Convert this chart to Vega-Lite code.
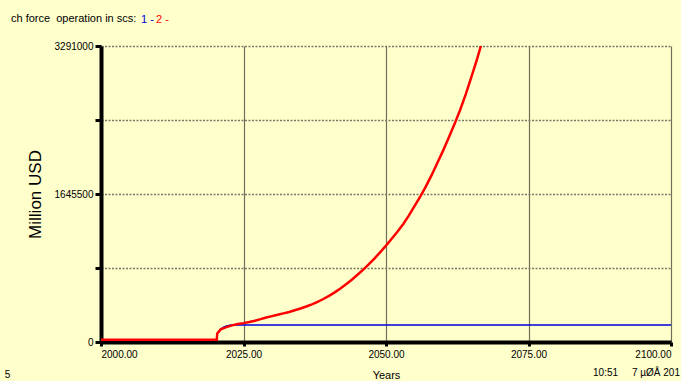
{
  "$schema": "https://vega.github.io/schema/vega-lite/v6.json",
  "width": 570,
  "height": 296,
  "autosize": {"type": "none"},
  "padding": {"left": 101, "top": 46, "right": 10, "bottom": 39},
  "background": "#ffffcc",
  "config": {"view": {"stroke": null}, "font": "Liberation Sans"},
  "title": {
    "text": "10:51\u00a0\u00a0\u00a0\u00a0\u00a07 µØÅ 201",
    "orient": "bottom",
    "anchor": "end",
    "frame": "group",
    "fontSize": 10,
    "fontWeight": "normal",
    "color": "#000000",
    "offset": -12,
    "dx": 9
  },
  "layer": [
    {
      "data": {
        "values": [
          {"year": 2000, "value": 25000, "series": "1"},
          {"year": 2020.3, "value": 25000, "series": "1"},
          {"year": 2020.4, "value": 95000, "series": "1"},
          {"year": 2021, "value": 145000, "series": "1"},
          {"year": 2021.5, "value": 165000, "series": "1"},
          {"year": 2022, "value": 178000, "series": "1"},
          {"year": 2022.8, "value": 189000, "series": "1"},
          {"year": 2100, "value": 189000, "series": "1"},
          {"year": 2000, "value": 25000, "series": "2"},
          {"year": 2020.3, "value": 25000, "series": "2"},
          {"year": 2020.4, "value": 95000, "series": "2"},
          {"year": 2021, "value": 140000, "series": "2"},
          {"year": 2022, "value": 165000, "series": "2"},
          {"year": 2023, "value": 185000, "series": "2"},
          {"year": 2024, "value": 200000, "series": "2"},
          {"year": 2025, "value": 210000, "series": "2"},
          {"year": 2026, "value": 222000, "series": "2"},
          {"year": 2027, "value": 237000, "series": "2"},
          {"year": 2028, "value": 254000, "series": "2"},
          {"year": 2029, "value": 273000, "series": "2"},
          {"year": 2030, "value": 288000, "series": "2"},
          {"year": 2031, "value": 303000, "series": "2"},
          {"year": 2032, "value": 318000, "series": "2"},
          {"year": 2033, "value": 334000, "series": "2"},
          {"year": 2034, "value": 353000, "series": "2"},
          {"year": 2035, "value": 373000, "series": "2"},
          {"year": 2036, "value": 395000, "series": "2"},
          {"year": 2037, "value": 419000, "series": "2"},
          {"year": 2038, "value": 446000, "series": "2"},
          {"year": 2039, "value": 478000, "series": "2"},
          {"year": 2040, "value": 513000, "series": "2"},
          {"year": 2041, "value": 552000, "series": "2"},
          {"year": 2042, "value": 595000, "series": "2"},
          {"year": 2043, "value": 643000, "series": "2"},
          {"year": 2044, "value": 693000, "series": "2"},
          {"year": 2045, "value": 748000, "series": "2"},
          {"year": 2046, "value": 805000, "series": "2"},
          {"year": 2047, "value": 865000, "series": "2"},
          {"year": 2048, "value": 930000, "series": "2"},
          {"year": 2049, "value": 1000000, "series": "2"},
          {"year": 2050, "value": 1072000, "series": "2"},
          {"year": 2051, "value": 1148000, "series": "2"},
          {"year": 2052, "value": 1225000, "series": "2"},
          {"year": 2053, "value": 1310000, "series": "2"},
          {"year": 2054, "value": 1405000, "series": "2"},
          {"year": 2055, "value": 1510000, "series": "2"},
          {"year": 2056, "value": 1615000, "series": "2"},
          {"year": 2057, "value": 1730000, "series": "2"},
          {"year": 2058, "value": 1855000, "series": "2"},
          {"year": 2059, "value": 1990000, "series": "2"},
          {"year": 2060, "value": 2125000, "series": "2"},
          {"year": 2061, "value": 2270000, "series": "2"},
          {"year": 2062, "value": 2420000, "series": "2"},
          {"year": 2063, "value": 2580000, "series": "2"},
          {"year": 2064, "value": 2755000, "series": "2"},
          {"year": 2065, "value": 2950000, "series": "2"},
          {"year": 2066, "value": 3150000, "series": "2"},
          {"year": 2067, "value": 3370000, "series": "2"},
          {"year": 2068, "value": 3600000, "series": "2"}
        ]
      },
      "mark": {"type": "line", "clip": true},
      "encoding": {
        "x": {
          "field": "year",
          "type": "quantitative",
          "scale": {"domain": [2000, 2100], "nice": false, "zero": false},
          "axis": {
            "values": [2000, 2025, 2050, 2075, 2100],
            "format": ".2f",
            "title": "Years",
            "labelFontSize": 10,
            "labelColor": "#000000",
            "labelPadding": 3,
            "labelFlush": true,
            "titleFontSize": 11,
            "titleFontWeight": "normal",
            "titleColor": "#000000",
            "titlePadding": 10,
            "domainColor": "#000000",
            "domainWidth": 4,
            "tickColor": "#000000",
            "tickWidth": 3,
            "tickSize": 4,
            "grid": true,
            "gridColor": "#6e6e5a",
            "gridWidth": 1.2,
            "gridOpacity": 1
          }
        },
        "y": {
          "field": "value",
          "type": "quantitative",
          "scale": {"domain": [0, 3291000], "nice": false, "zero": true},
          "axis": {
            "values": [0, 822750, 1645500, 2468250, 3291000],
            "format": "d",
            "labelExpr": "datum.value % 1645500 == 0 ? datum.label : ''",
            "title": "Million USD",
            "labelFontSize": 10,
            "labelColor": "#000000",
            "labelPadding": 2,
            "titleFontSize": 17,
            "titleFontWeight": "normal",
            "titleColor": "#000000",
            "titlePadding": 10,
            "domainColor": "#000000",
            "domainWidth": 4,
            "tickColor": "#000000",
            "tickWidth": 3,
            "tickSize": 6,
            "grid": true,
            "gridColor": "#77776a",
            "gridDash": [2, 1.5],
            "gridWidth": 1.5,
            "gridOpacity": 1
          }
        },
        "color": {
          "field": "series",
          "type": "nominal",
          "scale": {"domain": ["1", "2"], "range": ["#0000dd", "#ff0000"]},
          "legend": {
            "orient": "none",
            "legendX": -90,
            "legendY": -32,
            "direction": "horizontal",
            "title": "ch force\u00a0 operation in scs:",
            "titleOrient": "left",
            "titleFontSize": 11,
            "titleFontWeight": "normal",
            "titleColor": "#000000",
            "titlePadding": 4,
            "labelFontSize": 11,
            "labelExpr": "datum.label + ' -'",
            "labelOffset": -11,
            "symbolSize": 0,
            "symbolStrokeWidth": 0,
            "columnPadding": 2,
            "padding": 0,
            "encode": {
              "labels": {"update": {"fill": {"signal": "datum.value == '1' ? '#0000dd' : '#ff0000'"}}}
            }
          }
        },
        "strokeWidth": {
          "field": "series",
          "type": "nominal",
          "scale": {"domain": ["1", "2"], "range": [1.3, 2.5]},
          "legend": null
        }
      }
    },
    {
      "data": {"values": [{"note": "5"}]},
      "mark": {"type": "text", "fontSize": 10, "color": "#000000", "align": "center", "baseline": "middle"},
      "encoding": {
        "x": {"datum": 1983.6, "type": "quantitative"},
        "y": {"datum": -372000, "type": "quantitative"},
        "text": {"field": "note"}
      }
    }
  ]
}
